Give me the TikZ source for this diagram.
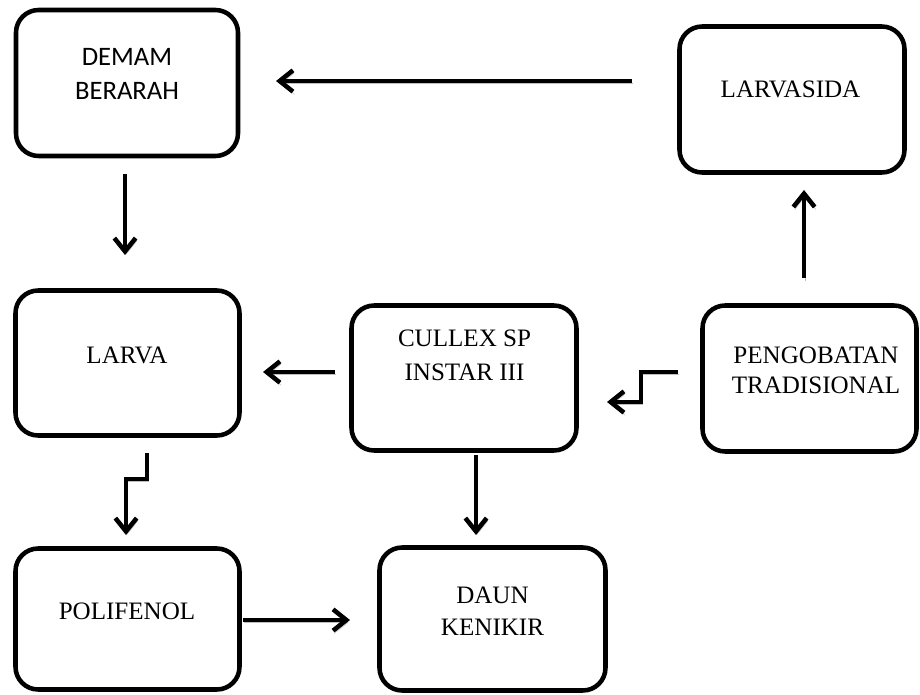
\documentclass[tikz,border=0pt]{standalone}
\usepackage{fontspec}
\setmainfont{Liberation Serif}
\newfontfamily\carlito{Carlito}
\usetikzlibrary{arrows.meta}
\begin{document}
\begin{tikzpicture}[x=0.75pt,y=-0.75pt,
  box/.style={draw, line width=3.4pt, rounded corners=17pt, inner sep=0pt},
  lbl/.style={font=\fontsize{18.8}{24}\selectfont, align=center, inner sep=0pt, anchor=base},
  arr/.style={line width=3.4pt, -{Straight Barb[length=10pt,width=16pt]},
    preaction={draw=gray!50, transform canvas={shift={(1pt,-2pt)}}}}]
\useasboundingbox (0,0) rectangle (920,695);
% boxes
\node[box, minimum width=166.5pt, minimum height=109.5pt] (demam) at (127,83) {};
\node[box, minimum width=168.75pt, minimum height=109.5pt] (larvasida) at (792,99.5) {};
\node[box, minimum width=168pt, minimum height=108.75pt] (larva) at (127.5,363) {};
\node[box, minimum width=168.75pt, minimum height=108.75pt] (cullex) at (464,378) {};
\node[box, minimum width=160.5pt, minimum height=109.5pt] (pengobatan) at (809.5,378.5) {};
\node[box, minimum width=168pt, minimum height=105.75pt] (polifenol) at (127.5,619) {};
\node[box, minimum width=169.5pt, minimum height=107.25pt] (daun) at (492.5,619) {};
% texts (base anchor = baseline of last line)
\node[lbl, font=\carlito\fontsize{20}{25.5}\selectfont] (tdemam) at (127,100) {DEMAM\\BERARAH};
\node[lbl] (tlarvasida) at (790.5,98) {LARVASIDA};
\node[lbl] (tlarva) at (127,363) {LARVA};
\node[lbl, font=\fontsize{18.8}{25}\selectfont] (tcullex) at (464.5,380) {CULLEX SP\\INSTAR III};
\node[lbl, font=\fontsize{18.8}{22.5}\selectfont] (tpeng) at (816,393) {PENGOBATAN\\TRADISIONAL};
\node[lbl] (tpoli) at (127,619) {POLIFENOL};
\node[lbl, font=\fontsize{18.8}{23.6}\selectfont] (tdaun) at (492.5,635) {DAUN\\KENIKIR};
% connector ends
\coordinate (a1s) at (632,81);  \coordinate (a1e) at (276,81);
\coordinate (a2s) at (125,174); \coordinate (a2e) at (125,255);
\coordinate (a3s) at (804,278); \coordinate (a3e) at (804,190);
\coordinate (a4s) at (335,372); \coordinate (a4e) at (263,372);
\coordinate (a5s) at (678,372); \coordinate (a5m) at (641,402); \coordinate (a5e) at (607,402);
\coordinate (a6s) at (147,453); \coordinate (a6m) at (126,479); \coordinate (a6e) at (126,535);
\coordinate (a7s) at (476,455); \coordinate (a7e) at (476,535);
\coordinate (a8s) at (243,620); \coordinate (a8e) at (350,620);
% connectors
\draw[arr] (a1s) -- (a1e);
\draw[arr] (a2s) -- (a2e);
\draw[arr] (a3s) -- (a3e);
\draw[arr] (a4s) -- (a4e);
\draw[arr] (a5s) -| (a5m) -- (a5e);
\draw[arr] (a6s) |- (a6m) -- (a6e);
\draw[arr] (a7s) -- (a7e);
\draw[arr] (a8s) -- (a8e);
\end{tikzpicture}
\end{document}
